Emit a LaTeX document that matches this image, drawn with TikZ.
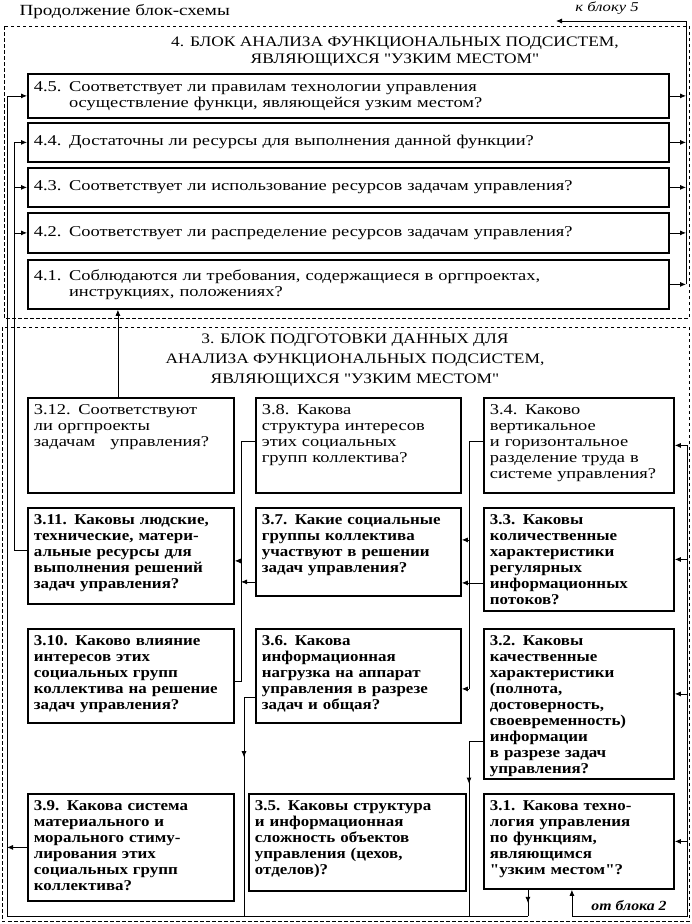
\documentclass[tikz,border=0pt]{standalone}
\usepackage{fontspec}
\setmainfont{Liberation Serif}
\newfontfamily\qfont{Liberation Serif}[FakeStretch=1.23]
\newfontfamily\qbfont{Liberation Serif}[FakeStretch=1.13]
\newfontfamily\hfont{Liberation Serif}[FakeStretch=1.2]
\usetikzlibrary{arrows.meta,decorations.markings}

\begin{document}
\begin{tikzpicture}[x=1pt, y=-1pt,
    ques/.style={draw, line width=1.8pt, anchor=north west, align=left,
                 inner xsep=6pt, inner ysep=4pt,
                 font={\qfont\fontsize{15}{16}\selectfont}},
    quesb/.style={ques, font={\qbfont\bfseries\fontsize{15}{16}\selectfont}},
    qdepth/.style={text height=13pt, text depth=#1},
    ttl/.style={align=center, font={\hfont\fontsize{14.5}{17}\selectfont}},
    rem/.style={font={\qfont\itshape\fontsize{13.5}{15}\selectfont}},
    wire/.style={line width=0.8pt},
    arr/.style={wire, -{Latex[length=6pt, width=5pt]}},
    midarr/.style={wire, postaction={decorate, decoration={markings,
                   mark=at position #1 with {\arrow{Latex[length=6pt, width=5pt]}}}}},
    frame/.style={line width=0.8pt, dash pattern=on 3.5pt off 2.5pt}
]
\useasboundingbox (0,0) rectangle (692,924);

\node[anchor=west, font={\qfont\fontsize{15.5}{17}\selectfont}] (hd) at (16,12) {Продолжение блок-схемы};
\node[rem] (k5) at (607,8) {к блоку 5};

\draw[frame] (4,26) rectangle (689,318);
\draw[frame] (2,327) rectangle (689,921);

\node[ttl] (t4) at (395,52) {4. БЛОК АНАЛИЗА ФУНКЦИОНАЛЬНЫХ ПОДСИСТЕМ,\\ЯВЛЯЮЩИХСЯ "УЗКИМ МЕСТОМ"};
\node[ttl, font={\hfont\fontsize{14.5}{20}\selectfont}] (t3) at (355,360)
    {3. БЛОК ПОДГОТОВКИ ДАННЫХ ДЛЯ\\АНАЛИЗА ФУНКЦИОНАЛЬНЫХ ПОДСИСТЕМ,\\ЯВЛЯЮЩИХСЯ "УЗКИМ МЕСТОМ"};

\node[ques, text width=629pt, minimum height=44pt] (q45) at (27,73)
    {4.5. Соответствует ли правилам технологии управления\\\hphantom{4.5. }осуществление функци, являющейся узким местом?};
\node[ques, text width=629pt, minimum height=39pt] (q44) at (27,122)
    {4.4. Достаточны ли ресурсы для выполнения данной функции?};
\node[ques, text width=629pt, minimum height=39pt] (q43) at (27,167)
    {4.3. Соответствует ли использование ресурсов задачам управления?};
\node[ques, text width=629pt, minimum height=40pt] (q42) at (27,212)
    {4.2. Соответствует ли распределение ресурсов задачам управления?};
\node[ques, text width=629pt, minimum height=49pt] (q41) at (27,259)
    {4.1. Соблюдаются ли требования, содержащиеся в оргпроектах,\\\hphantom{4.1. }инструкциях, положениях?};

\node[ques, text width=194pt, qdepth=74pt] (q312) at (27,397)
    {3.12. Соответствуют\\ли оргпроекты\\задачам \ \ управления?};
\node[ques, text width=193pt, qdepth=74pt] (q38) at (255,397)
    {3.8. Какова\\структура интересов\\этих социальных\\групп коллектива?};
\node[ques, text width=178pt, qdepth=74pt] (q34) at (483,397)
    {3.4. Каково\\вертикальное\\и горизонтальное\\разделение труда в\\системе управления?};

\node[quesb, text width=194pt, qdepth=75pt] (q311) at (27,507)
    {3.11. Каковы людские,\\технические, матери-\\альные ресурсы для\\выполнения решений\\задач управления?};
\node[quesb, text width=193pt, qdepth=67pt] (q37) at (255,507)
    {3.7. Какие социальные\\группы коллектива\\участвуют в решении\\задач управления?};
\node[quesb, text width=178pt, qdepth=82pt] (q33) at (483,507)
    {3.3. Каковы\\количественные\\характеристики\\регулярных\\информационных\\потоков?};

\node[quesb, text width=194pt, qdepth=73pt] (q310) at (27,628)
    {3.10. Каково влияние\\интересов этих\\социальных групп\\коллектива на решение\\задач управления?};
\node[quesb, text width=193pt, qdepth=73pt] (q36) at (255,628)
    {3.6. Какова\\информационная\\нагрузка на аппарат\\управления в разрезе\\задач и общая?};
\node[quesb, text width=178pt, qdepth=129pt] (q32) at (483,628)
    {3.2. Каковы\\качественные\\характеристики\\(полнота,\\достоверность,\\своевременность)\\информации\\в разрезе задач\\управления?};

\node[quesb, text width=194pt, qdepth=86pt] (q39) at (27,793)
    {3.9. Какова система\\материального и\\морального стиму-\\лирования этих\\социальных групп\\коллектива?};
\node[quesb, text width=205pt, qdepth=76pt] (q35) at (248,793)
    {3.5. Каковы структура\\и информационная\\сложность объектов\\управления (цехов,\\отделов)?};
\node[quesb, text width=178pt, qdepth=74pt] (q31) at (483,793)
    {3.1. Какова техно-\\логия управления\\по функциям,\\являющимся\\"узким местом"?};

\node[rem, font={\qbfont\bfseries\itshape\fontsize{14}{15}\selectfont}] (o2) at (629,906) {от блока 2};

\coordinate (b4) at (686,21);
\coordinate (b4end) at (556,21);
\coordinate (ba) at (7,916);
\coordinate (bb) at (14,0);
\coordinate (br) at (687,916);
\coordinate (l1) at (241,0);
\coordinate (l1b) at (244,0);
\coordinate (l2) at (469,0);
\coordinate (c38) at ([yshift=4pt]q38.west);
\coordinate (c34) at ([yshift=4.5pt]q34.west);
\coordinate (c311) at ([yshift=-5pt]q311.east);
\coordinate (c311w) at ([yshift=6pt]q311.west);
\coordinate (c37w) at ([yshift=-30pt]q37.west);
\coordinate (c37a) at ([yshift=12pt]q37.east);
\coordinate (c37b) at ([yshift=-31pt]q37.east);
\coordinate (c310) at ([yshift=-5pt]q310.east);
\coordinate (c36w) at ([yshift=-21pt]q36.west);
\coordinate (c36e) at ([yshift=-13pt]q36.east);
\coordinate (c32w) at ([yshift=-37pt]q32.west);
\coordinate (c32e) at ([yshift=10pt]q32.east);
\coordinate (c31a) at ([xshift=-51pt]q31.south);
\coordinate (c31b) at ([xshift=-7pt]q31.south);

\draw[arr] ([xshift=-13pt]q312.north) -- ([xshift=-13pt]q312.north |- q41.south);

\foreach \q in {q45,q44,q43,q42,q41}
    \draw[arr] (\q.east) -- (\q.east -| b4);
\draw[wire] (q41.east -| b4) -- (b4);
\draw[arr] (b4) -- (b4end);

\draw[wire] (c311w) -| (q44.west -| bb);
\foreach \q in {q44,q43,q42}
    \draw[arr] (\q.west -| bb) -- (\q.west);

\draw[midarr=0.5] (c31a) -- (c31a |- ba);
\draw[wire] (c31a |- ba) -- (ba);
\draw[arr] (ba) |- (q45.west);
\draw[arr] (q39.west) -- (q39.west -| ba);

\draw[wire] (c38) -| (c310 -| l1) -- (c310);
\draw[arr] (c311 -| l1) -- (c311);
\draw[arr] (c37w) -- (c37w -| l1);
\draw[midarr=0.31] (c36w) -| (l1b |- ba);

\draw[wire] (c34) -| (c36e -| l2);
\draw[arr] (c36e -| l2) -- (c36e);
\draw[arr] (c37a -| l2) -- (c37a);
\draw[arr] (c37b -| q33.west) -- (c37b);
\draw[midarr=0.3] (c32w) -| (l2 |- ba);

\draw[wire] (q34.east -| br) -- (br) -- (br -| c31b);
\draw[arr] (br -| c31b) -- (c31b);
\foreach \q in {q34,q33,q31}
    \draw[arr] (\q.east -| br) -- (\q.east);
\draw[arr] (c32e -| br) -- (c32e);
\end{tikzpicture}
\end{document}
